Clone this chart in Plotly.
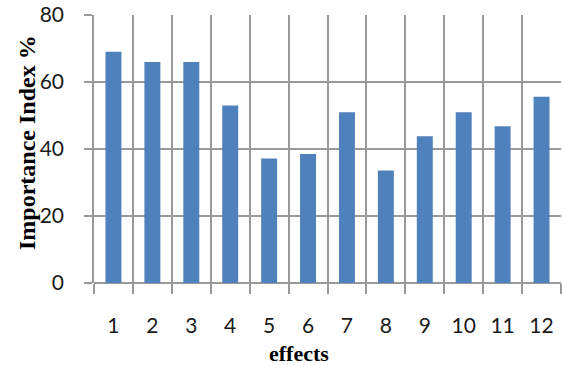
import plotly.graph_objects as go

categories = ["1", "2", "3", "4", "5", "6", "7", "8", "9", "10", "11", "12"]
importance_index = [69, 66, 66, 53, 37.2, 38.5, 51, 33.6, 43.8, 51, 46.8, 55.6]
y_ticks = [0, 20, 40, 60, 80]

fig = go.Figure(
    go.Bar(
        x=categories,
        y=importance_index,
        marker=dict(color="#4F81BD", line=dict(width=0)),
    )
)

grid = "#999999"
fig.update_layout(
    width=562,
    height=365,
    margin=dict(l=94, r=1, t=15, b=82),
    paper_bgcolor="white",
    plot_bgcolor="white",
    bargap=0.59,
    showlegend=False,
    xaxis=dict(
        type="category",
        tickson="boundaries",
        showgrid=True,
        gridcolor=grid,
        gridwidth=1.5,
        ticks="outside",
        ticklen=10,
        tickcolor=grid,
        tickwidth=1.5,
        showline=False,
        tickfont=dict(family="Lato", size=21, color="#1a1a1a"),
        ticklabelstandoff=28,
    ),
    yaxis=dict(
        range=[0, 80],
        tickvals=y_ticks,
        showgrid=True,
        gridcolor=grid,
        gridwidth=1.5,
        zeroline=True,
        zerolinecolor=grid,
        zerolinewidth=1.5,
        showline=True,
        linecolor=grid,
        linewidth=1.5,
        ticks="outside",
        ticklen=8,
        tickcolor=grid,
        tickwidth=1.5,
        tickfont=dict(family="Lato", size=21, color="#1a1a1a"),
        ticklabelstandoff=16,
    ),
    annotations=[
        dict(
            text="<b>effects</b>",
            xref="paper", yref="paper",
            x=0.439, y=0,
            xanchor="center", yanchor="middle",
            yshift=-70,
            showarrow=False,
            font=dict(family="Liberation Serif", size=22, color="black"),
        ),
        dict(
            text="<b>Importance Index %</b>",
            xref="paper", yref="paper",
            x=0, y=0.5,
            xanchor="center", yanchor="middle",
            xshift=-67, yshift=6,
            textangle=-90,
            showarrow=False,
            font=dict(family="Liberation Serif", size=24, color="black"),
        ),
    ],
)

fig.write_html("out.html")
